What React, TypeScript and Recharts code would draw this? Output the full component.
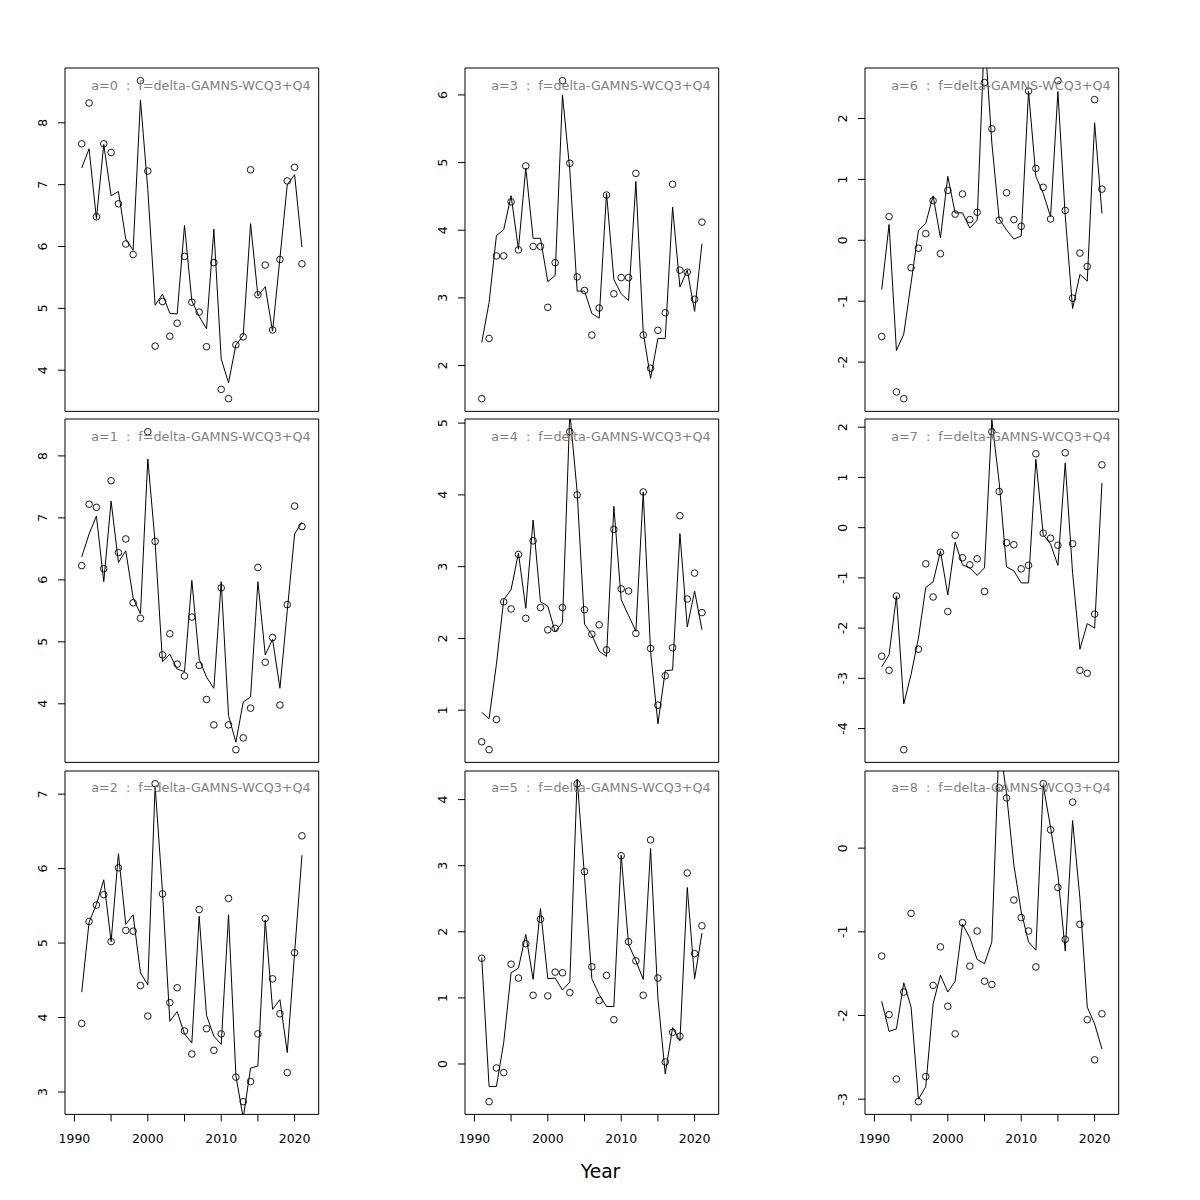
import React from 'react';
import { ComposedChart, Line, Scatter, XAxis, YAxis, ReferenceArea } from 'recharts';

const years = [1991, 1992, 1993, 1994, 1995, 1996, 1997, 1998, 1999, 2000, 2001, 2002, 2003, 2004, 2005, 2006, 2007, 2008, 2009, 2010, 2011, 2012, 2013, 2014, 2015, 2016, 2017, 2018, 2019, 2020, 2021];

const obsA0 = [7.66, 8.32, 6.48, 7.66, 7.52, 6.69, 6.04, 5.87, 8.68, 7.22, 4.39, 5.11, 4.55, 4.76, 5.84, 5.10, 4.94, 4.38, 5.74, 3.69, 3.54, 4.41, 4.54, 7.24, 5.22, 5.70, 4.65, 5.79, 7.06, 7.28, 5.72];
const fitA0 = [7.27, 7.58, 6.45, 7.65, 6.82, 6.89, 6.12, 5.94, 8.37, 6.92, 5.05, 5.23, 4.92, 4.91, 6.34, 5.12, 4.87, 4.67, 6.28, 4.18, 3.80, 4.41, 4.56, 6.37, 5.20, 5.35, 4.63, 5.81, 7.00, 7.16, 5.99];

const obsA1 = [6.23, 7.22, 7.17, 6.18, 7.60, 6.44, 6.66, 5.63, 5.38, 8.39, 6.62, 4.79, 5.13, 4.64, 4.45, 5.40, 4.62, 4.07, 3.66, 5.87, 3.66, 3.26, 3.45, 3.93, 6.20, 4.67, 5.07, 3.98, 5.60, 7.19, 6.86];
const fitA1 = [6.37, 6.74, 7.03, 5.97, 7.27, 6.28, 6.47, 5.71, 5.45, 7.95, 6.60, 4.68, 4.80, 4.56, 4.52, 5.99, 4.72, 4.43, 4.25, 5.97, 3.81, 3.38, 4.03, 4.11, 5.97, 4.79, 5.04, 4.25, 5.50, 6.74, 6.93];

const obsA2 = [3.92, 5.29, 5.51, 5.65, 5.02, 6.01, 5.17, 5.16, 4.43, 4.02, 7.14, 5.66, 4.20, 4.40, 3.82, 3.51, 5.45, 3.85, 3.56, 3.78, 5.60, 3.20, 2.87, 3.14, 3.78, 5.33, 4.52, 4.05, 3.26, 4.87, 6.44];
const fitA2 = [4.34, 5.28, 5.52, 5.85, 5.02, 6.20, 5.25, 5.38, 4.60, 4.44, 7.11, 5.69, 3.95, 4.08, 3.78, 3.66, 5.36, 4.03, 3.75, 3.64, 5.38, 3.22, 2.65, 3.32, 3.35, 5.31, 4.11, 4.24, 3.53, 4.87, 6.18];

const obsA3 = [1.51, 2.40, 3.62, 3.62, 4.42, 3.71, 4.95, 3.76, 3.76, 2.86, 3.52, 6.21, 4.99, 3.31, 3.11, 2.45, 2.85, 4.52, 3.06, 3.30, 3.30, 4.84, 2.45, 1.96, 2.52, 2.78, 4.68, 3.41, 3.38, 2.98, 4.12];
const fitA3 = [2.34, 2.93, 3.92, 4.01, 4.51, 3.72, 4.92, 3.88, 3.88, 3.24, 3.33, 6.00, 4.89, 3.10, 3.10, 2.77, 2.70, 4.55, 3.27, 3.06, 2.96, 4.72, 2.49, 1.81, 2.40, 2.40, 4.34, 3.16, 3.41, 2.80, 3.80];

const obsA4 = [0.56, 0.45, 0.87, 2.51, 2.41, 3.17, 2.28, 3.36, 2.43, 2.12, 2.14, 2.43, 4.88, 4.00, 2.40, 2.06, 2.19, 1.84, 3.52, 2.69, 2.66, 2.07, 4.04, 1.86, 1.07, 1.48, 1.87, 3.71, 2.55, 2.91, 2.36];
const fitA4 = [0.97, 0.88, 1.64, 2.54, 2.68, 3.19, 2.42, 3.65, 2.51, 2.45, 2.09, 2.22, 5.15, 4.04, 2.20, 2.05, 1.82, 1.75, 3.84, 2.54, 2.32, 2.10, 4.04, 1.82, 0.81, 1.55, 1.56, 3.46, 2.16, 2.66, 2.12];

const obsA5 = [1.60, -0.57, -0.06, -0.13, 1.51, 1.30, 1.82, 1.04, 2.19, 1.03, 1.39, 1.38, 1.08, 4.24, 2.91, 1.47, 0.96, 1.34, 0.67, 3.15, 1.85, 1.56, 1.04, 3.39, 1.30, 0.03, 0.48, 0.42, 2.89, 1.67, 2.09];
const fitA5 = [1.61, -0.34, -0.34, 0.33, 1.38, 1.45, 1.96, 1.28, 2.35, 1.29, 1.30, 1.12, 1.24, 4.31, 2.84, 1.29, 1.05, 0.87, 0.87, 3.16, 1.81, 1.56, 1.28, 3.26, 1.00, -0.15, 0.55, 0.35, 2.67, 1.29, 1.98];

const obsA6 = [-1.58, 0.39, -2.49, -2.60, -0.45, -0.13, 0.11, 0.65, -0.22, 0.82, 0.43, 0.76, 0.34, 0.46, 2.59, 1.83, 0.33, 0.78, 0.34, 0.23, 2.45, 1.18, 0.87, 0.35, 2.62, 0.49, -0.95, -0.21, -0.43, 2.31, 0.84];
const fitA6 = [-0.81, 0.26, -1.81, -1.54, -0.70, 0.16, 0.28, 0.73, 0.04, 1.05, 0.45, 0.45, 0.20, 0.33, 3.40, 1.60, 0.35, 0.17, 0.02, 0.07, 2.45, 1.05, 0.77, 0.39, 2.44, 0.40, -1.12, -0.56, -0.67, 1.93, 0.44];

const obsA7 = [-2.56, -2.84, -1.36, -4.42, null, -2.42, -0.72, -1.38, -0.49, -1.67, -0.15, -0.60, -0.74, -0.62, -1.27, 1.91, 0.72, -0.30, -0.34, -0.82, -0.75, 1.47, -0.11, -0.21, -0.35, 1.49, -0.32, -2.84, -2.90, -1.72, 1.25];
const fitA7 = [-2.77, -2.53, -1.36, -3.51, -2.92, -2.20, -1.19, -1.08, -0.47, -1.34, -0.29, -0.74, -0.80, -0.95, -0.80, 2.15, 0.90, -0.78, -0.86, -1.10, -1.10, 1.36, -0.14, -0.33, -0.75, 1.29, -0.90, -2.42, -1.91, -2.00, 0.89];

const obsA8 = [-1.29, -1.99, -2.76, -1.72, -0.78, -3.03, -2.73, -1.64, -1.18, -1.89, -2.22, -0.89, -1.41, -0.99, -1.59, -1.63, 0.72, 0.60, -0.62, -0.83, -0.99, -1.42, 0.77, 0.22, -0.47, -1.09, 0.55, -0.91, -2.05, -2.53, -1.98];
const fitA8 = [-1.83, -2.19, -2.16, -1.61, -1.90, -3.00, -2.85, -1.86, -1.52, -1.72, -1.59, -0.91, -1.07, -1.33, -1.38, -1.12, 1.30, 0.65, -0.20, -0.76, -1.12, -1.22, 0.75, 0.25, -0.32, -1.23, 0.33, -0.60, -1.90, -2.10, -2.40];

const yTicksA0 = [4, 5, 6, 7, 8];
const yTicksA1 = [4, 5, 6, 7, 8];
const yTicksA2 = [3, 4, 5, 6, 7];
const yTicksA3 = [2, 3, 4, 5, 6];
const yTicksA4 = [1, 2, 3, 4, 5];
const yTicksA5 = [0, 1, 2, 3, 4];
const yTicksA6 = [-2, -1, 0, 1, 2];
const yTicksA7 = [-4, -3, -2, -1, 0, 1, 2];
const yTicksA8 = [-3, -2, -1, 0];

const xTicks = [1990, 1995, 2000, 2005, 2010, 2015, 2020];
const xLabelled = [1990, 2000, 2010, 2020];
const xDomain: [number, number] = [1988.72, 2023.28];

const modelName = 'f=delta-GAMNS-WCQ3+Q4';
const xTitle = 'Year';

const panels = [
  { a: 0, obs: obsA0, fit: fitA0, ticks: yTicksA0 },
  { a: 1, obs: obsA1, fit: fitA1, ticks: yTicksA1 },
  { a: 2, obs: obsA2, fit: fitA2, ticks: yTicksA2 },
  { a: 3, obs: obsA3, fit: fitA3, ticks: yTicksA3 },
  { a: 4, obs: obsA4, fit: fitA4, ticks: yTicksA4 },
  { a: 5, obs: obsA5, fit: fitA5, ticks: yTicksA5 },
  { a: 6, obs: obsA6, fit: fitA6, ticks: yTicksA6 },
  { a: 7, obs: obsA7, fit: fitA7, ticks: yTicksA7 },
  { a: 8, obs: obsA8, fit: fitA8, ticks: yTicksA8 },
];

const FONT = 'DejaVu Sans';
const colLefts = [65, 465, 865];
const rowTops = [68.3, 419.4, 770.5];
const BOX_W = 253.7;
const BOX_H = 343.4;
const Y_AXIS_W = 60;
const PAD = 10;
const X_AXIS_H = 45;

const YTick = (props: any) => {
  const { x, y, payload } = props;
  const cx = x - 15.7;
  return (
    <text x={cx} y={y} transform={`rotate(-90 ${cx} ${y})`} textAnchor="middle" dominantBaseline="central"
      fontSize={12.5} fontFamily={FONT} fill="#000">
      {String(payload.value)}
    </text>
  );
};

const XTick = (props: any) => {
  const { x, y, payload } = props;
  if (!xLabelled.includes(payload.value)) return <g />;
  return (
    <text x={x} y={y + 21.8} textAnchor="middle" fontSize={12.5} fontFamily={FONT} fill="#000">
      {String(payload.value)}
    </text>
  );
};

const Circle = (props: any) => {
  const { cx, cy } = props;
  if (cx == null || cy == null) return <g />;
  return <circle cx={cx} cy={cy} r={3.3} fill="none" stroke="#000" strokeWidth={0.9} />;
};

function Panel({ p, col, row }: { p: any; col: number; row: number }) {
  const rows = years.map((yr, i) => ({ year: yr, obs: p.obs[i], fit: p.fit[i] }));
  const obsRows = rows.filter((r) => r.obs !== null && r.obs !== undefined);
  const vals = obsRows.map((r) => r.obs as number);
  const mn = Math.min(...vals);
  const mx = Math.max(...vals);
  const lo = mn - 0.04 * (mx - mn);
  const hi = mx + 0.04 * (mx - mn);
  const bottomRow = row === 2;
  const width = Y_AXIS_W + BOX_W + PAD;
  const height = PAD + BOX_H + (bottomRow ? X_AXIS_H : PAD);
  return (
    <div style={{ position: 'absolute', left: colLefts[col] - Y_AXIS_W, top: rowTops[row] - PAD }}>
      <ComposedChart width={width} height={height} data={rows}
        margin={{ top: PAD, right: PAD, left: 0, bottom: bottomRow ? 0 : PAD }}>
        <XAxis type="number" dataKey="year" domain={xDomain} ticks={xTicks} allowDataOverflow
          hide={!bottomRow} height={X_AXIS_H} axisLine={false} tickSize={7} tickMargin={0}
          tickLine={{ stroke: '#000', strokeWidth: 1 }} tick={<XTick />} interval={0} />
        <YAxis type="number" domain={[lo, hi]} ticks={p.ticks} allowDataOverflow width={Y_AXIS_W}
          axisLine={false} tickSize={7} tickMargin={0} tickLine={{ stroke: '#000', strokeWidth: 1 }}
          tick={<YTick />} interval={0} />
        <Line type="linear" dataKey="fit" stroke="#000" strokeWidth={1} dot={false} activeDot={false}
          isAnimationActive={false} />
        <Scatter data={obsRows} dataKey="obs" shape={<Circle />} isAnimationActive={false} />
        <ReferenceArea x1={xDomain[0]} x2={xDomain[1]} y1={lo} y2={hi} fill="none" fillOpacity={0}
          stroke="#000" strokeWidth={1} ifOverflow="visible" />
      </ComposedChart>
    </div>
  );
}

export default function App() {
  return (
    <div style={{ position: 'absolute', left: 0, top: 0, width: 1200, height: 1200, background: '#fff' }}>
      {panels.map((p, i) => {
        const col = Math.floor(i / 3);
        const row = i % 3;
        return <Panel key={p.a} p={p} col={col} row={row} />;
      })}
      <svg width={1200} height={1200} style={{ position: 'absolute', left: 0, top: 0, pointerEvents: 'none' }}>
        {panels.map((p, i) => {
          const col = Math.floor(i / 3);
          const row = i % 3;
          return (
            <text key={p.a} x={colLefts[col] + BOX_W - 8} y={rowTops[row] + 21.2} textAnchor="end"
              fontSize={12.75} fontFamily={FONT} fill="#7f7f7f" style={{ whiteSpace: 'pre' }}>
              {`a=${p.a}  :  ${modelName}`}
            </text>
          );
        })}
        <text x={600.5} y={1178} textAnchor="middle" fontSize={18.7} fontFamily={FONT} fill="#000">
          {xTitle}
        </text>
      </svg>
    </div>
  );
}
